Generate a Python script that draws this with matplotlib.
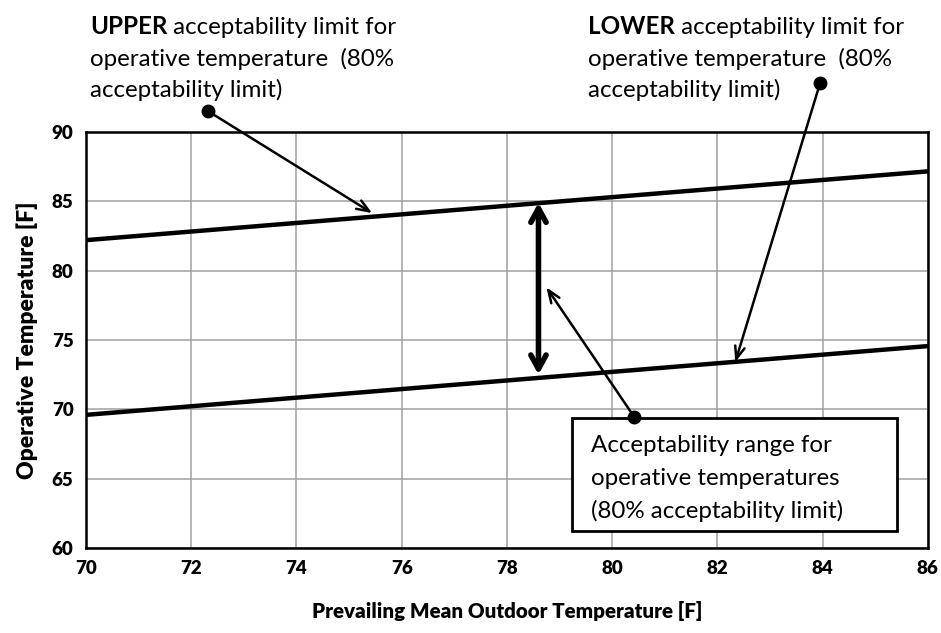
import matplotlib
matplotlib.use("Agg")
import matplotlib.pyplot as plt
from matplotlib.patches import Rectangle

plt.rcParams['font.family'] = ['Lato', 'DejaVu Sans']

# Data
outdoor_temp = [70, 86]
upper_limit = [82.2, 87.16]
lower_limit = [69.6, 74.56]
x_ticks = [70, 72, 74, 76, 78, 80, 82, 84, 86]
y_ticks = [60, 65, 70, 75, 80, 85, 90]
range_x = 78.6
range_bounds = [84.9, 72.5]

fig = plt.figure(figsize=(9.41, 6.33), dpi=100)
ax = fig.add_axes([0.0914, 0.1343, 0.8946, 0.6572])

ax.plot(outdoor_temp, upper_limit, color='black', lw=3.2, solid_capstyle='butt', zorder=3)
ax.plot(outdoor_temp, lower_limit, color='black', lw=3.2, solid_capstyle='butt', zorder=3)

ax.set_xlim(70, 86)
ax.set_ylim(60, 90)
ax.set_xticks(x_ticks)
ax.set_yticks(y_ticks)
ax.grid(True, color='#a0a0a0', lw=1.1)
ax.set_axisbelow(True)
for s in ax.spines.values():
    s.set_linewidth(1.8)
    s.set_color('black')
ax.tick_params(length=0, labelsize=13.5, pad=9)
for lbl in ax.get_xticklabels() + ax.get_yticklabels():
    lbl.set_fontweight('heavy')
ax.set_xlabel('Prevailing Mean Outdoor Temperature [F]', fontsize=14.8, fontweight='heavy', labelpad=17)
ax.set_ylabel('Operative Temperature [F]', fontsize=16.5, fontweight='heavy', labelpad=10)

# Double-headed range arrow
ax.annotate('', xy=(range_x, range_bounds[0]), xytext=(range_x, range_bounds[1]),
            arrowprops=dict(arrowstyle='<->,head_length=1.0,head_width=0.55', lw=4, color='black',
                            shrinkA=0, shrinkB=0), zorder=4)

def callout(x0, y0, x1, y1):
    ax.annotate('', xy=(x1, y1), xytext=(x0, y0),
                arrowprops=dict(arrowstyle='->,head_length=0.9,head_width=0.35', lw=1.8, color='black',
                                shrinkA=0, shrinkB=0), annotation_clip=False, zorder=5)
    ax.plot([x0], [y0], 'o', color='black', ms=9, clip_on=False, zorder=7)

callout(72.32, 91.5, 75.44, 84.15)
callout(83.95, 93.5, 82.34, 73.4)
callout(80.42, 69.45, 78.75, 78.8)

fs = 17.4
# UPPER text
t1 = fig.text(90/941, 1 - 34/633, 'UPPER', fontsize=fs, fontweight='bold', va='baseline', ha='left')
ax.annotate(' acceptability limit for', xy=(1, 0), xycoords=t1, va='bottom', ha='left', fontsize=fs)
fig.text(90/941, 1 - 66/633, 'operative temperature  (80%', fontsize=fs, va='baseline', ha='left')
fig.text(90/941, 1 - 97/633, 'acceptability limit)', fontsize=fs, va='baseline', ha='left')

t2 = fig.text(588/941, 1 - 34/633, 'LOWER', fontsize=fs, fontweight='bold', va='baseline', ha='left')
ax.annotate(' acceptability limit for', xy=(1, 0), xycoords=t2, va='bottom', ha='left', fontsize=fs)
fig.text(588/941, 1 - 66/633, 'operative temperature  (80%', fontsize=fs, va='baseline', ha='left')
fig.text(588/941, 1 - 97/633, 'acceptability limit)', fontsize=fs, va='baseline', ha='left')

# Box (inside axes so the callout dot sits on top)
box = Rectangle((572/941, 1 - 531/633), (897-572)/941, (531-418)/633, transform=fig.transFigure,
                facecolor='white', edgecolor='black', lw=2, zorder=6, clip_on=False)
ax.add_patch(box)
for i, line in enumerate(['Acceptability range for', 'operative temperatures', '(80% acceptability limit)']):
    ax.text(591/941, 1 - (452 + i*33)/633, line, transform=fig.transFigure, fontsize=fs,
            va='baseline', ha='left', zorder=8, clip_on=False)

fig.savefig('out.png', dpi=100)
